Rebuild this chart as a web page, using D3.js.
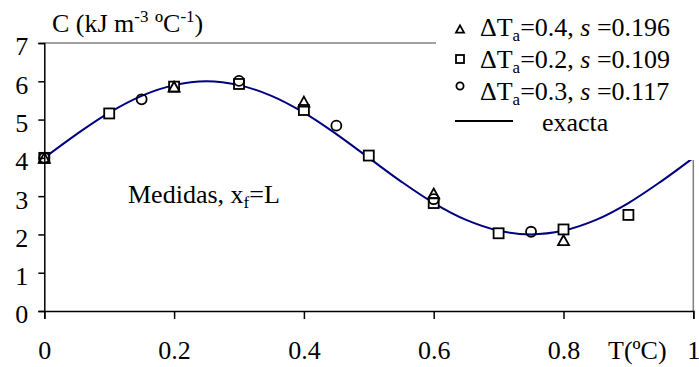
<!DOCTYPE html>
<html><head><meta charset="utf-8">
<script src="https://cdn.jsdelivr.net/npm/d3@7"></script>
<style>
body{margin:0;background:#fff;}
svg text{font-family:"Liberation Serif","Times New Roman",Times,serif;fill:#000;}
</style></head>
<body><svg id="c" width="699" height="367"></svg>
<script>
// ---- data ----
const tExact = [0,0.05,0.1,0.15,0.2,0.25,0.3,0.35,0.4,0.45,0.5,0.55,0.6,0.65,0.7,0.75,0.8,0.85,0.9,0.95,1];
const cExact = [4.0,4.62,5.18,5.62,5.90,6.0,5.90,5.62,5.18,4.62,4.0,3.38,2.82,2.38,2.10,2.0,2.10,2.38,2.82,3.38,4.0];
const tTri = [0,0.2,0.4,0.6,0.8];
const cTri = [4.0,5.86,5.47,3.07,1.85];
const tSq = [0,0.1,0.2,0.3,0.4,0.5,0.6,0.7,0.8,0.9];
const cSq = [4.0,5.16,5.86,5.93,5.25,4.06,2.82,2.03,2.13,2.51];
const tCirc = [0,0.15,0.3,0.45,0.6,0.75];
const cCirc = [4.0,5.53,6.01,4.84,2.92,2.07];
const xTicks = [0,0.2,0.4,0.6,0.8,1];
const xTickLabels = ["0","0.2","0.4","0.6","0.8","1"];
const yTicks = [0,1,2,3,4,5,6,7];
const legendLabels = [
  {d:"0.4", s:"0.196"},
  {d:"0.2", s:"0.109"},
  {d:"0.3", s:"0.117"}
];

// ---- layout ----
const FF = '"Liberation Serif","Times New Roman",Times,serif';
const FS = 26, SUB = 17;
const svg = d3.select("#c");
const x = d3.scaleLinear().domain([0,1]).range([44.3,693.3]);
const y = d3.scaleLinear().domain([0,7]).range([311,43]);

// plot border (grey top/right)
svg.append("line").attr("x1",x(0)).attr("x2",x(1)).attr("y1",y(7)).attr("y2",y(7))
  .attr("stroke","#808080").attr("stroke-width",1.5);
svg.append("line").attr("x1",x(1)).attr("x2",x(1)).attr("y1",y(7)).attr("y2",y(0))
  .attr("stroke","#808080").attr("stroke-width",1.5);

// exact curve
const line = d3.line().x((d,i)=>x(tExact[i])).y((d,i)=>y(cExact[i])).curve(d3.curveCatmullRom);
svg.append("path").datum(cExact).attr("d",line).attr("fill","none")
  .attr("stroke","#000080").attr("stroke-width",2);

// markers
const sqS = 10, triS = 11, cR = 5;
function triPath(cx,cy,s){const h=s*0.9;return `M${cx},${cy-h/2}L${cx+s/2},${cy+h/2}L${cx-s/2},${cy+h/2}Z`;}
svg.append("g").selectAll("rect").data(cSq).join("rect")
  .attr("x",(d,i)=>x(tSq[i])-sqS/2).attr("y",d=>y(d)-sqS/2).attr("width",sqS).attr("height",sqS)
  .attr("fill","#fff").attr("stroke","#000").attr("stroke-width",1.8);
svg.append("g").selectAll("circle").data(cCirc).join("circle")
  .attr("cx",(d,i)=>x(tCirc[i])).attr("cy",d=>y(d)).attr("r",cR)
  .attr("fill","none").attr("stroke","#000").attr("stroke-width",1.8);
svg.append("g").selectAll("path").data(cTri).join("path")
  .attr("d",(d,i)=>triPath(x(tTri[i]),y(d),triS))
  .attr("fill","none").attr("stroke","#000").attr("stroke-width",1.8);

// axes
const yAxis = d3.axisLeft(y).tickValues(yTicks).tickSize(6).tickPadding(10).tickFormat(d3.format("d"));
const gy = svg.append("g").attr("transform",`translate(${x(0)},0)`).call(yAxis);
gy.attr("font-family",FF).attr("font-size",FS);
gy.select(".domain").attr("stroke","#000").attr("stroke-width",1.5);
gy.selectAll(".tick line").attr("stroke","#000").attr("stroke-width",1.5);
gy.selectAll(".tick text").style("font-family",FF).attr("font-size",FS).attr("fill","#000").attr("dy","0.46em");

const xAxis = d3.axisBottom(x).tickValues(xTicks).tickSize(8).tickPadding(22).tickFormat((d,i)=>xTickLabels[i]);
const gx = svg.append("g").attr("transform",`translate(0,${y(0)})`).call(xAxis);
gx.attr("font-family",FF).attr("font-size",FS);
gx.select(".domain").attr("stroke","#000").attr("stroke-width",1.5);
gx.selectAll(".tick line").attr("stroke","#000").attr("stroke-width",1.5);
gx.selectAll(".tick text").style("font-family",FF).attr("font-size",FS).attr("fill","#000");

// axis titles
const yt = svg.append("text").attr("x",52).attr("y",32).attr("font-size",FS).style("font-family",FF);
yt.append("tspan").text("C (kJ m");
yt.append("tspan").attr("dy",-10).attr("font-size",SUB).text("-3");
yt.append("tspan").attr("dy",10).text(" ºC");
yt.append("tspan").attr("dy",-10).attr("font-size",SUB).text("-1");
yt.append("tspan").attr("dy",10).text(")");

svg.append("text").attr("x",608).attr("y",359).attr("font-size",FS).style("font-family",FF).text("T(ºC)");

// annotation
const an = svg.append("text").attr("x",128).attr("y",203).attr("font-size",FS).style("font-family",FF);
an.append("tspan").text("Medidas, x");
an.append("tspan").attr("dy",5).attr("font-size",SUB).text("f");
an.append("tspan").attr("dy",-5).text("=L");

// legend
const lg = svg.append("g");
lg.append("rect").attr("x",436).attr("y",0).attr("width",263).attr("height",160).attr("fill","#fff");
const rowY = [36,68,100];
const markY = [29,59,86];
lg.append("path").attr("d",triPath(460,markY[0],8)).attr("fill","none").attr("stroke","#000").attr("stroke-width",1.8);
lg.append("rect").attr("x",456).attr("y",markY[1]-4).attr("width",8).attr("height",8).attr("fill","none").attr("stroke","#000").attr("stroke-width",1.8);
lg.append("circle").attr("cx",460).attr("cy",markY[2]).attr("r",3.6).attr("fill","none").attr("stroke","#000").attr("stroke-width",1.8);
legendLabels.forEach((l,i)=>{
  const t = lg.append("text").attr("x",480).attr("y",rowY[i]).attr("font-size",FS).style("font-family",FF);
  t.append("tspan").text("ΔT");
  t.append("tspan").attr("dy",5).attr("font-size",SUB).text("a");
  t.append("tspan").attr("dy",-5).text("=" + l.d + ", ");
  t.append("tspan").attr("font-style","italic").text("s");
  t.append("tspan").text(" =" + l.s);
});
lg.append("line").attr("x1",455).attr("x2",513).attr("y1",121).attr("y2",121).attr("stroke","#000").attr("stroke-width",2);
lg.append("text").attr("x",542).attr("y",131).attr("font-size",FS).style("font-family",FF).text("exacta");
</script></body></html>
